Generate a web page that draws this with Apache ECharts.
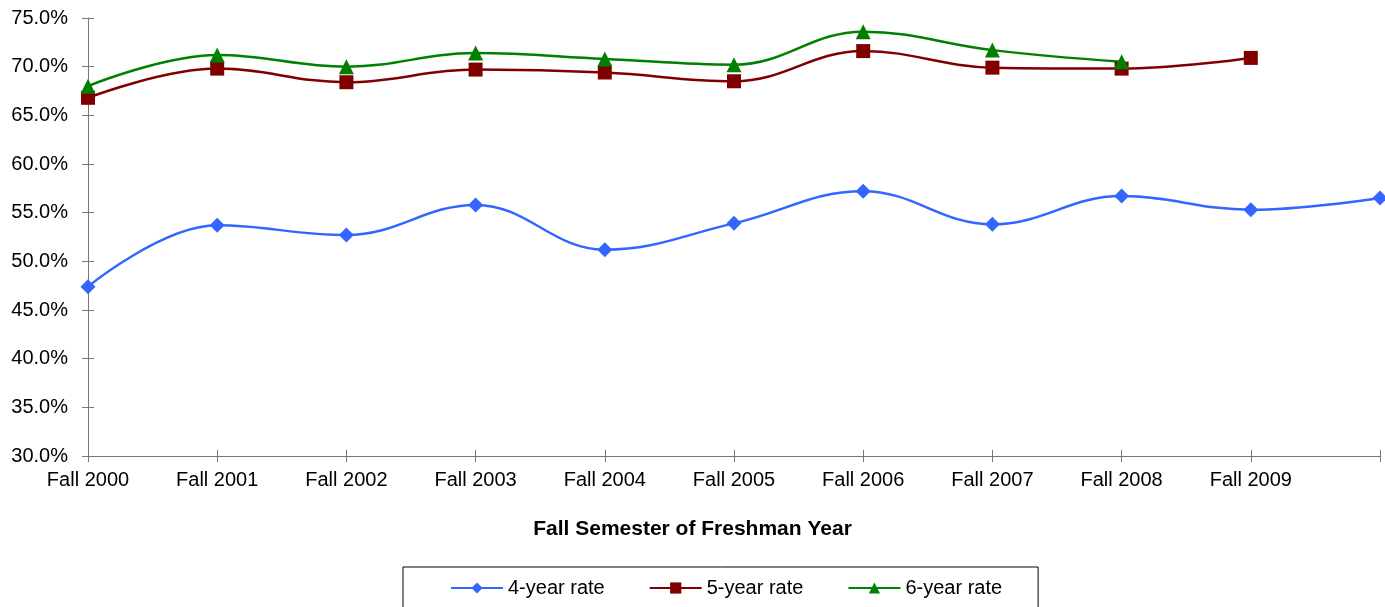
<!DOCTYPE html>
<html>
<head>
<meta charset="utf-8">
<script src="https://cdn.jsdelivr.net/npm/echarts@6/dist/echarts.min.js"></script>
<style>
  html, body { margin: 0; padding: 0; background: #fff; }
  #chart { width: 1385px; height: 607px; }
</style>
</head>
<body>
<div id="chart"></div>
<script>
// categories (last slot has no label)
const categories = ["Fall 2000", "Fall 2001", "Fall 2002", "Fall 2003", "Fall 2004",
  "Fall 2005", "Fall 2006", "Fall 2007", "Fall 2008", "Fall 2009", ""];
const rate4 = [47.4, 53.7, 52.7, 55.8, 51.2, 53.9, 57.2, 53.8, 56.7, 55.3, 56.5];
const rate5 = [66.8, 69.8, 68.4, 69.7, 69.4, 68.5, 71.6, 69.9, 69.8, 70.9, null];
const rate6 = [68.0, 71.2, 70.0, 71.4, 70.8, 70.2, 73.6, 71.7, 70.5, null, null];

const FONT = "Liberation Sans, Arial, sans-serif";
const axisColor = "#787878";

function lineSeries(name, data, color, symbol, size) {
  return {
    name: name,
    type: "line",
    data: data,
    smooth: 0.4,
    symbol: symbol,
    symbolSize: size,
    showAllSymbol: true,
    lineStyle: { color: color, width: 2.5 },
    itemStyle: { color: color },
    emphasis: { disabled: true },
  };
}

const option = {
  animation: false,
  textStyle: { fontFamily: FONT },
  title: {
    text: "Fall Semester of Freshman Year",
    left: "center",
    top: 514,
    textStyle: { fontFamily: FONT, fontSize: 21, fontWeight: "bold", color: "#000" },
  },
  grid: { left: 88, right: 5, top: 18, bottom: 151 },
  xAxis: [
    {
      type: "category",
      data: categories,
      boundaryGap: false,
      axisLine: { lineStyle: { color: axisColor, width: 1 } },
      axisTick: { show: true, length: 6, lineStyle: { color: axisColor } },
      axisLabel: { color: "#000", fontSize: 20, margin: 14, fontFamily: FONT, interval: 0 },
      splitLine: { show: false },
    },
    {
      // inner half of the crossing ticks
      type: "category",
      data: categories,
      boundaryGap: false,
      position: "bottom",
      axisLine: { show: false },
      axisTick: { show: true, inside: true, length: 6, lineStyle: { color: axisColor } },
      axisLabel: { show: false },
    },
  ],
  yAxis: [
    {
      type: "value",
      min: 30,
      max: 75,
      interval: 5,
      axisLine: { show: true, lineStyle: { color: axisColor, width: 1 } },
      axisTick: { show: true, length: 6, lineStyle: { color: axisColor } },
      axisLabel: {
        color: "#000",
        fontSize: 20,
        margin: 20,
        fontFamily: FONT,
        formatter: (v) => v.toFixed(1) + "%",
      },
      splitLine: { show: false },
    },
    {
      type: "value",
      min: 30,
      max: 75,
      interval: 5,
      position: "left",
      axisLine: { show: false },
      axisTick: { show: true, inside: true, length: 6, lineStyle: { color: axisColor } },
      axisLabel: { show: false },
      splitLine: { show: false },
    },
  ],
  legend: {
    left: 403,
    top: 567,
    padding: [11, 36, 30, 47],
    itemGap: 44,
    itemWidth: 52,
    itemHeight: 14,
    borderColor: "#000",
    borderWidth: 1,
    textStyle: { fontFamily: FONT, fontSize: 20, color: "#000" },
    data: ["4-year rate", "5-year rate", "6-year rate"],
  },
  series: [
    lineSeries("4-year rate", rate4, "#3366FF", "diamond", 15),
    lineSeries("5-year rate", rate5, "#800000", "rect", 14),
    lineSeries("6-year rate", rate6, "#008000", "triangle", 15),
  ],
};

const dom = document.getElementById("chart");
echarts.init(dom, null, { renderer: "canvas" }).setOption(option);
</script>
</body>
</html>
